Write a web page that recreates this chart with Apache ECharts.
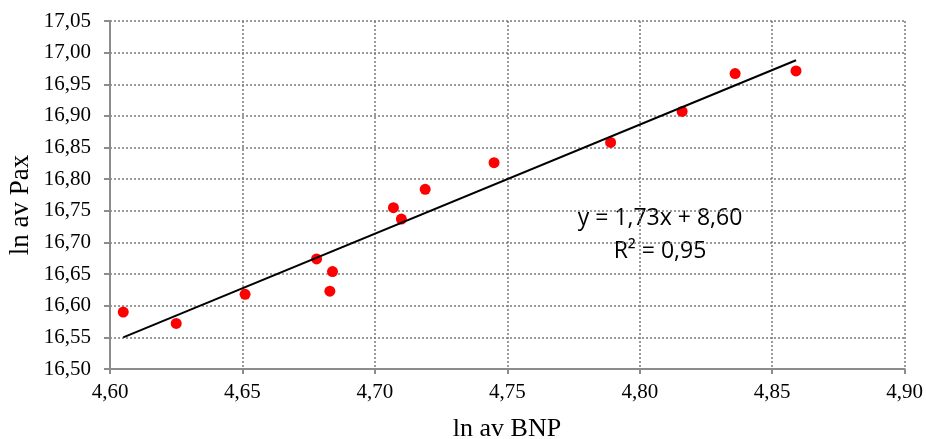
<!DOCTYPE html>
<html>
<head>
<meta charset="utf-8">
<script src="https://cdn.jsdelivr.net/npm/echarts@6/dist/echarts.min.js"></script>
<style>
    html, body { margin: 0; padding: 0; background: #fff; }
    #main { width: 926px; height: 439px; }
</style>
</head>
<body>
<div id="main"></div>
<script>
    // ln av BNP / ln av Pax
    var bnpValues = [4.605, 4.625, 4.651, 4.678, 4.683, 4.684, 4.707, 4.710, 4.719, 4.745, 4.789, 4.816, 4.836, 4.859];
    var paxValues = [16.590, 16.572, 16.618, 16.674, 16.623, 16.654, 16.755, 16.737, 16.784, 16.826, 16.858, 16.907, 16.967, 16.971];
    // trendline ends as drawn
    var trendX = [4.605, 4.859];
    var trendY = [16.550, 16.988];
    var equationLines = ['y = 1,73x + 8,60', 'R² = 0,95'];

    var points = bnpValues.map(function (x, i) {
        return [x, paxValues[i]];
    });
    var trend = trendX.map(function (x, i) {
        return [x, trendY[i]];
    });

    var serif = '"Liberation Serif", "DejaVu Serif", serif';
    var comma = function (v) {
        return v.toFixed(2).replace('.', ',');
    };
    var gridDots = {show: true, lineStyle: {color: '#7a7a7a', type: [2, 2], width: 1.5}};

    var myChart = echarts.init(document.getElementById('main'));
    var option = {
        backgroundColor: '#fff',
        animation: false,
        grid: {left: 110, right: 20, top: 21, bottom: 70},
        xAxis: {
            type: 'value',
            min: 4.6,
            max: 4.9,
            interval: 0.05,
            axisLine: {show: true, lineStyle: {color: '#8c8c8c', width: 2}},
            axisTick: {show: true, length: 5, lineStyle: {color: '#8c8c8c', width: 2}},
            axisLabel: {formatter: comma, color: '#000', fontFamily: serif, fontSize: 21, margin: 13},
            splitLine: gridDots
        },
        yAxis: {
            type: 'value',
            min: 16.5,
            max: 17.05,
            interval: 0.05,
            axisLine: {show: true, lineStyle: {color: '#8c8c8c', width: 2}},
            axisTick: {show: true, length: 6, lineStyle: {color: '#8c8c8c', width: 2}},
            axisLabel: {formatter: comma, color: '#000', fontFamily: serif, fontSize: 21, margin: 19},
            splitLine: gridDots
        },
        series: [
            {
                type: 'scatter',
                data: points,
                symbol: 'circle',
                symbolSize: 11,
                itemStyle: {color: '#ff0000', opacity: 1},
                z: 2
            },
            {
                type: 'line',
                data: trend,
                showSymbol: false,
                lineStyle: {color: '#000', width: 2},
                z: 3
            }
        ],
        graphic: [
            {
                type: 'text', x: 507, y: 429,
                style: {text: 'ln av BNP', font: '26px ' + serif, fill: '#000', textAlign: 'center', textVerticalAlign: 'middle'}
            },
            {
                type: 'text', x: 21, y: 205, rotation: Math.PI / 2,
                style: {text: 'ln av Pax', font: '27px ' + serif, fill: '#000', textAlign: 'center', textVerticalAlign: 'middle'}
            },
            {
                type: 'text', x: 660, y: 218,
                style: {text: equationLines[0], font: '23px "Open Sans", sans-serif', fill: '#000', textAlign: 'center', textVerticalAlign: 'middle'}
            },
            {
                type: 'text', x: 660, y: 251,
                style: {text: equationLines[1], font: '23px "Open Sans", sans-serif', fill: '#000', textAlign: 'center', textVerticalAlign: 'middle'}
            }
        ]
    };
    myChart.setOption(option);
</script>
</body>
</html>
